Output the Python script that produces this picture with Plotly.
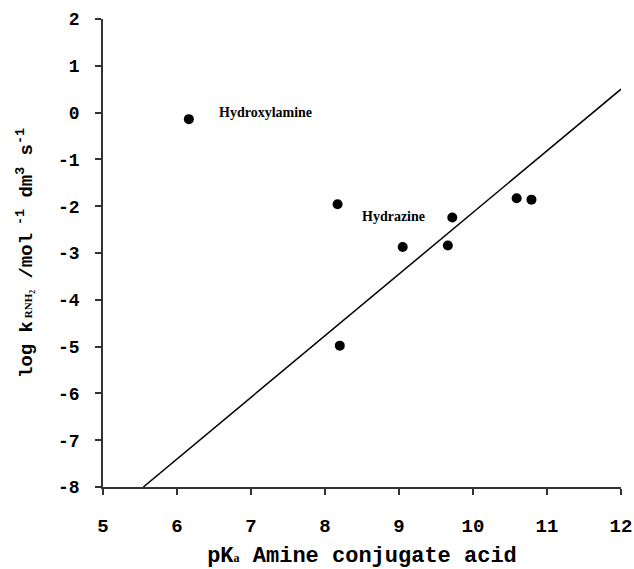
import plotly.graph_objects as go

# Data
pka = [6.16, 8.17, 9.05, 9.66, 9.72, 10.59, 10.79, 8.20]
logk = [-0.14, -1.96, -2.87, -2.84, -2.24, -1.83, -1.86, -4.98]

line_x = [5.545, 12.0]
line_y = [-8.0, 0.5]

labels = ["Hydroxylamine", "Hydrazine"]
label_x = [6.54, 8.47]
label_y = [0.0, -2.23]

x_ticks = [5, 6, 7, 8, 9, 10, 11, 12]
y_ticks = [2, 1, 0, -1, -2, -3, -4, -5, -6, -7, -8]

mono = "Liberation Mono, Courier New, monospace"
serif = "Liberation Serif, Times New Roman, serif"

fig = go.Figure()
fig.add_trace(go.Scatter(x=line_x, y=line_y, mode="lines",
                         line=dict(color="black", width=1.5),
                         showlegend=False, hoverinfo="skip"))
fig.add_trace(go.Scatter(x=pka, y=logk, mode="markers",
                         marker=dict(color="black", size=10),
                         showlegend=False))

for t, x, y in zip(labels, label_x, label_y):
    fig.add_annotation(x=x, y=y, text="<b>" + t + "</b>", showarrow=False,
                       xanchor="left", yanchor="middle",
                       font=dict(family=serif, size=14, color="black"))

fig.update_layout(
    width=634, height=569,
    margin=dict(l=103, r=13, t=19, b=82),
    paper_bgcolor="white", plot_bgcolor="white",
    font=dict(family=mono, color="black"),
)

fig.update_xaxes(
    range=[5, 12], tickvals=x_ticks, ticktext=[str(v) for v in x_ticks],
    automargin=False,
    showgrid=False, zeroline=False, showline=True, linecolor="#333", linewidth=1.5,
    ticks="outside", ticklen=6, tickwidth=1.5, tickcolor="#333",
    ticklabelstandoff=14,
    tickfont=dict(family=mono, size=19, color="black", weight="bold"),
    title=dict(text="pK<span style=\"font-size:12px;font-family:Liberation Serif\">a</span> Amine conjugate acid",
               font=dict(family=mono, size=22, color="black", weight="bold"), standoff=24),
)
fig.update_yaxes(
    range=[-8, 2], tickvals=y_ticks, ticktext=[str(v) for v in y_ticks],
    automargin=False,
    showgrid=False, zeroline=False, showline=True, linecolor="#333", linewidth=1.5,
    ticks="outside", ticklen=6, tickwidth=1.5, tickcolor="#333",
    ticklabelstandoff=12,
    tickfont=dict(family=mono, size=18, color="black", weight="bold"),
    title=dict(text="log k<span style=\"font-size:11px;font-family:Liberation Serif\"> RNH<sub>2</sub></span> /mol<sup> -1</sup> dm<sup>3</sup> s<sup>-1</sup>",
               font=dict(family=mono, size=19, color="black", weight="bold"), standoff=20),
)

fig.write_html("out.html")
